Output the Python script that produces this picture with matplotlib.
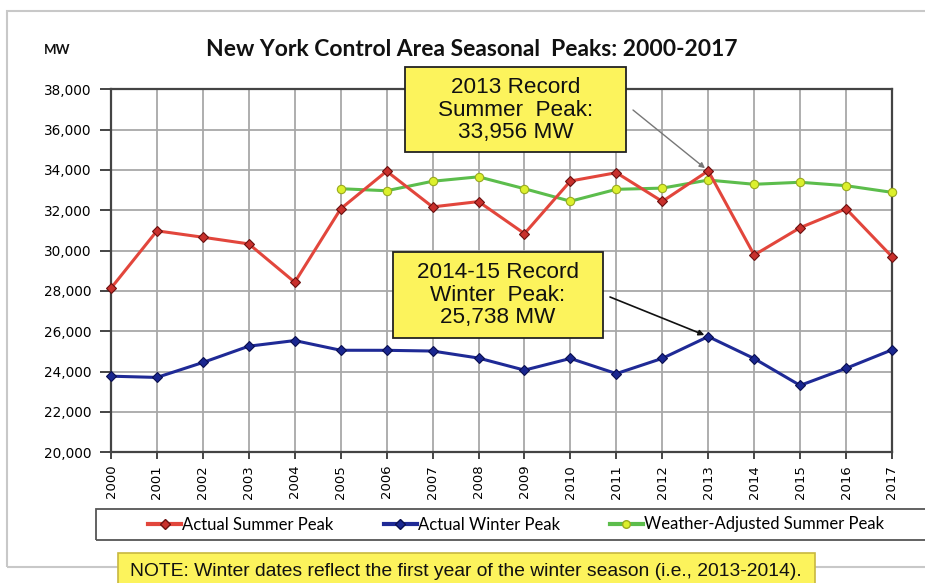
import numpy as np
import matplotlib.pyplot as plt
from matplotlib.patches import Rectangle
from matplotlib.lines import Line2D

# DATA
years = list(range(2000, 2018))
summer_peak = [28138, 30982, 30664, 30333, 28433, 32075, 33939, 32169, 32432,
               30844, 33452, 33865, 32439, 33956, 29782, 31138, 32076, 29699]
winter_peak = [23774, 23713, 24454, 25262, 25541, 25060, 25057, 25021, 24673,
               24074, 24654, 23901, 24658, 25738, 24648, 23317, 24164, 25081]
adj_years = list(range(2005, 2018))
adj_summer = [33070, 32970, 33440, 33660, 33070, 32450, 33040, 33100, 33500,
              33290, 33390, 33220, 32890]
y_ticks = list(range(20000, 38001, 2000))

fig = plt.figure(figsize=(9.25, 5.83), dpi=100)
W, H = 925, 583

def fx(px):
    return px / W

def fy(py):
    return 1 - py / H

def fig_box(x0, y0, x1, y1, **kw):
    # rectangle given in picture pixels (top-left origin)
    r = Rectangle((fx(x0), fy(y1)), fx(x1 - x0), (y1 - y0) / H,
                  transform=fig.transFigure, **kw)
    fig.patches.append(r)
    return r

# outer chart frame (right edge runs past the picture)
fig_box(7, 11, 940, 567, fill=False, edgecolor='#c8c8c8', linewidth=1.5, zorder=0)

ax = fig.add_axes([fx(111), fy(452.3), fx(892 - 111), (452.3 - 89.3) / H])

red = '#e2463c'
blue = '#1f2a96'
green = '#5cbd4c'

ax.plot(years, summer_peak, color=red, lw=2.2, marker='D', ms=5.5,
        mfc='#c8302c', mec='#6a1010', mew=0.8, zorder=4, clip_on=False)
ax.plot(years, winter_peak, color=blue, lw=2.2, marker='D', ms=5.5,
        mfc='#1a2790', mec='#0a0f50', mew=0.8, zorder=4, clip_on=False)
ax.plot(adj_years, adj_summer, color=green, lw=2.2, marker='o', ms=6,
        mfc='#dcf02c', mec='#9aaa20', mew=0.8, zorder=3, clip_on=False)

ax.set_xlim(2000, 2017)
ax.set_ylim(20000, 38000)
ax.set_xticks(years)
ax.set_xticklabels([str(y) for y in years], rotation=90, fontsize=9.5,
                   family='DejaVu Sans')
ax.set_yticks(y_ticks)
ax.set_yticklabels([f'{v:,}' for v in y_ticks], fontsize=9.8,
                   family='DejaVu Sans')
ax.grid(True, color='#a8a8a8', lw=1.3)
ax.set_axisbelow(True)
for s in ax.spines.values():
    s.set_color('#444444')
    s.set_linewidth(1.6)
ax.tick_params(axis='y', direction='out', length=8, width=1.4,
               color='#444444', pad=6)
ax.tick_params(axis='x', direction='out', length=5, width=1.4,
               color='#444444', pad=4)

# title and unit label
fig.text(fx(472), fy(50), 'New York Control Area Seasonal  Peaks: 2000-2017',
         ha='center', va='center', fontsize=16.5, fontweight='bold',
         family='Lato', color='#111111')
fig.text(fx(57), fy(50), 'MW', ha='center', va='center', fontsize=9.5,
         fontweight='bold', family='Lato', color='#111111')

# callouts
yellow = '#fcf35c'
fig_box(405, 67, 626, 152, fc=yellow, ec='#222222', lw=1.3, zorder=5)
fig_box(393, 252, 603, 338, fc=yellow, ec='#222222', lw=1.3, zorder=5)
fig.text(fx(515.5), fy(110), '2013 Record\nSummer  Peak:\n33,956 MW',
         ha='center', va='center', fontsize=16.2, family='Liberation Sans',
         linespacing=1.08, color='#111111', zorder=6)
fig.text(fx(498), fy(295), '2014-15 Record\nWinter  Peak:\n25,738 MW',
         ha='center', va='center', fontsize=16.2, family='Liberation Sans',
         linespacing=1.08, color='#111111', zorder=6)
ax.annotate('', xy=(2013, 33956), xytext=(fx(633), fy(110)),
            textcoords='figure fraction', zorder=6,
            arrowprops=dict(arrowstyle='-|>', color='#777777', lw=1.0,
                            shrinkA=0, shrinkB=3, mutation_scale=8))
ax.annotate('', xy=(2013, 25738), xytext=(fx(610), fy(297)),
            textcoords='figure fraction', zorder=6,
            arrowprops=dict(arrowstyle='-|>', color='#111111', lw=1.2,
                            shrinkA=0, shrinkB=3, mutation_scale=8))

# legend box
fig_box(96, 509, 940, 540, fill=False, edgecolor='#555555', linewidth=1.3, zorder=1)
handles = [
    Line2D([], [], color=red, lw=3, marker='D', ms=5, mfc='#c8302c', mec='#6a1010'),
    Line2D([], [], color=blue, lw=3, marker='D', ms=5, mfc='#1a2790', mec='#0a0f50'),
    Line2D([], [], color=green, lw=3, marker='o', ms=5.5, mfc='#dcf02c', mec='#9aaa20'),
]
labels = ['Actual Summer Peak', 'Actual Winter Peak', 'Weather-Adjusted Summer Peak']
fig.legend(handles, labels, loc='center', bbox_to_anchor=(fx(516), fy(524.5)),
           ncol=3, frameon=False, handlelength=2.0, handletextpad=0.05,
           columnspacing=3.0, prop={'family': 'Lato', 'size': 12})

# note
fig_box(118, 553, 815, 595, fc=yellow, ec='#c8b840', lw=1.2, zorder=2)
fig.text(fx(130), fy(571), 'NOTE: Winter dates reflect the first year of the winter season (i.e., 2013-2014).',
         ha='left', va='center', fontsize=13.9, family='Liberation Sans',
         color='#111111', zorder=3)

fig.savefig('out.png', dpi=100)
